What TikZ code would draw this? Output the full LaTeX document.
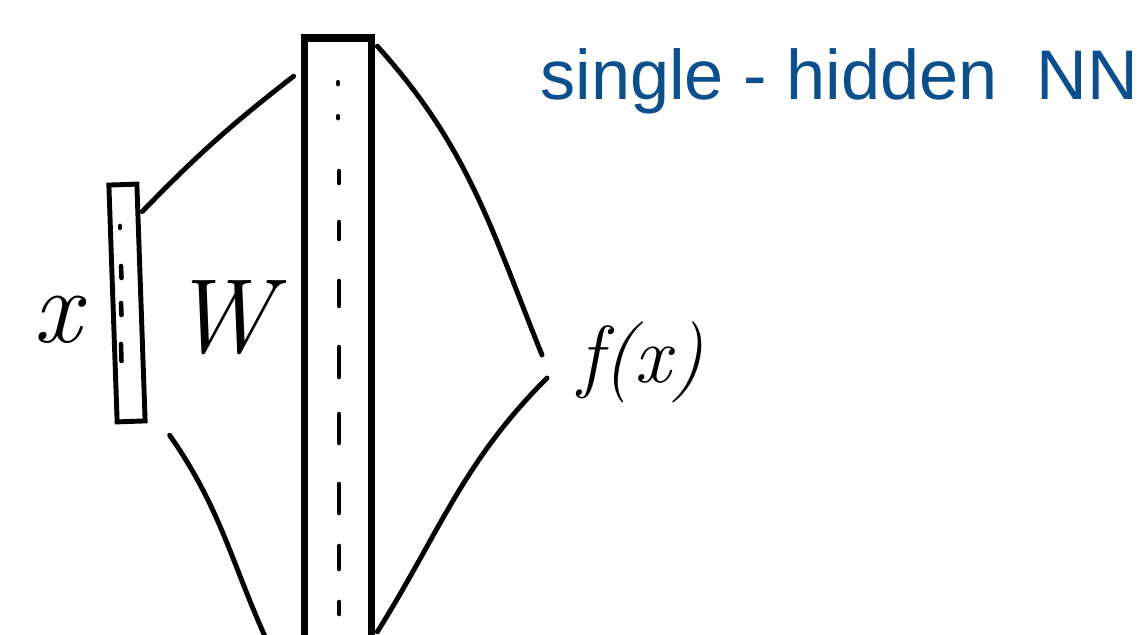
\documentclass[tikz,border=0pt]{standalone}
\usepackage{fontspec}
\usepackage{xcolor}
\usetikzlibrary{positioning, calc}
\newfontfamily\titlefont{Liberation Sans}
\definecolor{InkBlack}{HTML}{000000}
\definecolor{InkBlue}{HTML}{0B4F8C}
\tikzset{
    % Layer bar style
    layer/.style={
        rectangle,
        draw=InkBlack,
        line width=2.8pt,
        inner sep=0pt
    },
    % Connection style
    wire/.style={
        draw=InkBlack,
        line width=2.8pt,
        line cap=round
    },
    % Unit marks inside a layer
    unit/.style={
        draw=InkBlack,
        line width=2.6pt,
        line cap=round
    },
    % Label style
    lbl/.style={
        inner sep=0pt,
        font=\itshape\fontsize{60}{60}\selectfont
    }
}
\begin{document}
\begin{tikzpicture}[x=0.02cm, y=-0.02cm]
    \useasboundingbox (0,0) rectangle (1147,635);
    \begin{scope}
        \clip (0,0) rectangle (1147,635);

        % Input layer
        \node (xvec) [layer, minimum width=0.56cm, minimum height=4.74cm, rotate=2] at (127,303) {};
        \node (xlbl) [lbl] at (57,320) {x};
        \node (wlbl) [lbl] at (222,318) {W};

        % Hidden layer
        \node (hid) [layer, line width=4.4pt, minimum width=1.34cm, minimum height=12.14cm] at (338,341.5) {};

        % Output
        \node (fx) [lbl, font=\itshape\fontsize{46}{46}\selectfont] at (641,362) {f(x)};

        % Title
        \node (title) [anchor=base west, inner sep=0pt, text=InkBlue,
            font=\titlefont\fontsize{40}{40}\selectfont] at (540,100) {single - hidden\ \ NN};

        % Units of the input layer
        \draw [unit] (120,226) -- (120,228);
        \foreach \ya/\yb in {266/278, 303/315, 344/361}
            \draw [unit] (121,\ya) -- (121.5,\yb);

        % Units of the hidden layer
        \draw [unit] ($(hid.north)+(0,48)$) -- ($(hid.north)+(0,50)$);
        \draw [unit] ($(hid.north)+(0,82)$) -- ($(hid.north)+(0,84)$);
        \foreach \ya/\yb in {171/183, 222/239, 281/306, 347/377, 414/443, 484/513, 546/569, 602/614}
            \draw [unit] (339,\ya) -- (339,\yb);

        % Connections input to hidden
        \draw [wire] ([shift={(3,30)}]xvec.north east) to[bend left=4] ([shift={(-7,42)}]hid.north west);
        \draw [wire] ([shift={(22,12)}]xvec.south east) to[out=-55, in=115] ([shift={(-30,0)}]hid.south west);

        % Connections hidden to output
        \draw [wire] ([shift={(2,12)}]hid.north east) to[out=-48, in=112] ([shift={(-36,-7)}]fx.west);
        \draw [wire] ([shift={(2,-17)}]hid.south east) to[out=58, in=-135] ([shift={(-31,16)}]fx.west);
    \end{scope}
\end{tikzpicture}
\end{document}
